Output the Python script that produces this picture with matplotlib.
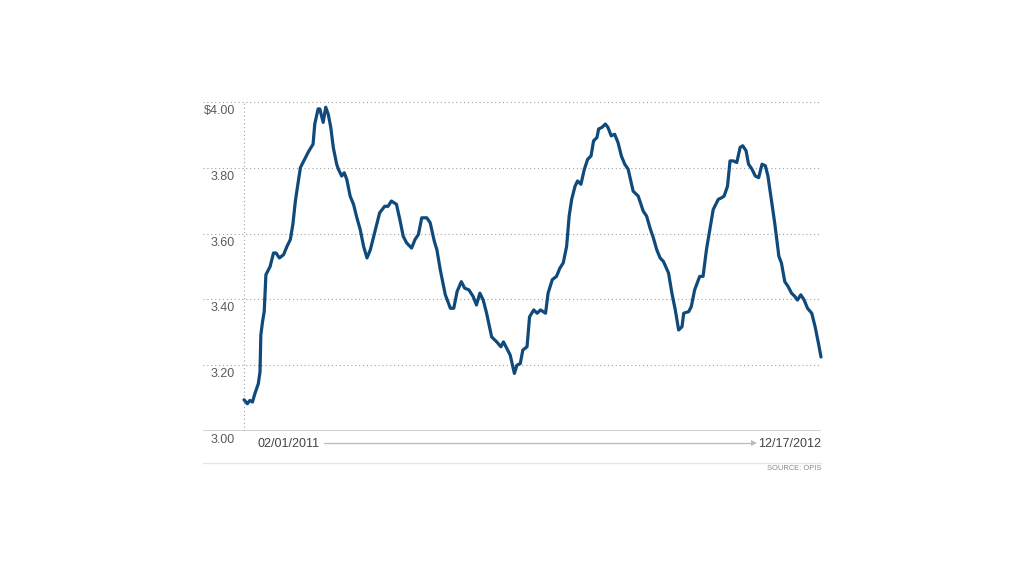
import matplotlib
matplotlib.use("Agg")
import matplotlib.pyplot as plt
from matplotlib.lines import Line2D
import matplotlib.transforms as mtransforms
import pandas as pd

# ---- data ----
start_date = "2011-02-01"
end_date = "2012-12-17"
day_offsets = [0, 4, 7, 10, 13, 17, 19, 20, 22, 24, 26, 31, 35, 38, 42, 47, 51, 55, 58, 61,
               63, 67, 72, 77, 82, 84, 88, 90, 94, 97, 100, 103, 106, 110, 112, 116, 119, 122,
               126, 130, 134, 138, 142, 146, 150, 154, 158, 161, 167, 171, 175, 181, 185, 189,
               193, 199, 203, 207, 211, 217, 221, 226, 229, 233, 239, 245, 249, 253, 258, 262,
               267, 272, 276, 280, 284, 288, 294, 300, 305, 308, 312, 316, 321, 324, 328, 331,
               336, 339, 344, 348, 352, 358, 361, 366, 371, 375, 379, 383, 386, 389, 393, 396,
               400, 404, 408, 412, 415, 419, 421, 425, 429, 432, 436, 440, 444, 448, 452, 456,
               462, 468, 474, 478, 482, 486, 490, 494, 498, 504, 508, 512, 516, 520, 522, 528,
               531, 535, 541, 545, 549, 553, 557, 563, 567, 570, 574, 577, 581, 585, 589, 592,
               596, 599, 603, 607, 611, 615, 619, 622, 626, 630, 635, 638, 642, 646, 650, 654,
               657, 661, 665, 669, 674, 678, 682, 685]
prices = [3.095, 3.083, 3.093, 3.088, 3.114, 3.144, 3.180, 3.292, 3.332, 3.363, 3.475, 3.500,
          3.541, 3.541, 3.526, 3.536, 3.561, 3.582, 3.628, 3.699, 3.734, 3.801, 3.826, 3.851,
          3.872, 3.933, 3.979, 3.979, 3.938, 3.984, 3.963, 3.923, 3.862, 3.811, 3.796, 3.775,
          3.785, 3.765, 3.714, 3.689, 3.648, 3.612, 3.561, 3.526, 3.551, 3.592, 3.633, 3.663,
          3.683, 3.683, 3.699, 3.689, 3.643, 3.592, 3.572, 3.556, 3.582, 3.597, 3.648, 3.648,
          3.633, 3.576, 3.551, 3.490, 3.414, 3.373, 3.373, 3.424, 3.454, 3.434, 3.429, 3.409,
          3.383, 3.419, 3.398, 3.358, 3.286, 3.271, 3.256, 3.271, 3.251, 3.231, 3.175, 3.200,
          3.205, 3.246, 3.256, 3.347, 3.368, 3.358, 3.368, 3.358, 3.419, 3.460, 3.470, 3.495,
          3.511, 3.561, 3.653, 3.704, 3.744, 3.760, 3.750, 3.795, 3.826, 3.836, 3.882, 3.892,
          3.918, 3.923, 3.933, 3.923, 3.897, 3.902, 3.877, 3.836, 3.811, 3.796, 3.729, 3.714,
          3.668, 3.653, 3.617, 3.587, 3.551, 3.526, 3.515, 3.480, 3.419, 3.368, 3.307, 3.317,
          3.358, 3.363, 3.378, 3.429, 3.470, 3.470, 3.551, 3.612, 3.673, 3.704, 3.709, 3.714,
          3.744, 3.821, 3.821, 3.816, 3.862, 3.867, 3.852, 3.811, 3.796, 3.775, 3.770, 3.811,
          3.806, 3.775, 3.704, 3.633, 3.531, 3.511, 3.454, 3.439, 3.419, 3.409, 3.398, 3.414,
          3.398, 3.373, 3.358, 3.317, 3.266, 3.225]
y_ticks = [3.00, 3.20, 3.40, 3.60, 3.80, 4.00]
y_tick_labels = ["3.00", "3.20", "3.40", "3.60", "3.80", "$4.00"]
start_label = "02/01/2011"
end_label = "12/17/2012"
source_text = "SOURCE: OPIS"

# ---- figure ----
plt.rcParams['font.family'] = ['Liberation Sans', 'DejaVu Sans']
W, H = 1024, 576
fig = plt.figure(figsize=(W / 100, H / 100), dpi=100)
fig.patch.set_facecolor("white")

def fx(px):
    return px / W

def fy(py):
    return 1 - py / H

left, right, top, bottom = 203, 821, 102, 431
ax = fig.add_axes([fx(left), fy(bottom), fx(right - left), (bottom - top) / H])
for s in ax.spines.values():
    s.set_visible(False)
ax.set_xticks([])
ax.set_yticks([])

t0 = pd.Timestamp(start_date)
t1 = pd.Timestamp(end_date)
dates = t0 + pd.to_timedelta(day_offsets, unit="D")
span = (t1 - t0)
pad = span * ((244 - left) / (right - 244))
ax.set_xlim(t0 - pad, t1)
ax.set_ylim(3.0, 4.0)

grid_col = "#a0a0a0"
for yv in y_ticks[1:]:
    ax.axhline(yv, color=grid_col, lw=0.8, ls=(0, (1, 2.5)), zorder=1)
ax.axhline(y_ticks[0], color="#c8c8c8", lw=1.2, zorder=1)
ax.axvline(t0, color=grid_col, lw=0.8, ls=(0, (1, 2.5)), zorder=1)

ax.plot(dates, prices, color="#0f4a7b", lw=2.3, solid_joinstyle="round",
        solid_capstyle="round", zorder=3, clip_on=False)

# y tick labels (drawn below each gridline, right aligned)
trans = mtransforms.blended_transform_factory(ax.transAxes, ax.transData)
off = mtransforms.offset_copy(trans, fig=fig, x=0, y=-3, units="dots")
for yv, lab in zip(y_ticks, y_tick_labels):
    ax.text((235 - left) / (right - left), yv, lab, transform=off, ha="right", va="top",
            fontsize=9, color="#5a5a5a")

# date labels with arrow
fig.text(fx(258), fy(444), start_label, ha="left", va="center", fontsize=9, color="#444444")
fig.text(fx(821), fy(444), end_label, ha="right", va="center", fontsize=9, color="#444444")
fig.add_artist(Line2D([fx(324), fx(752)], [fy(443), fy(443)], color="#bbbbbb", lw=0.9))
fig.add_artist(Line2D([fx(754)], [fy(443)], marker=">", markersize=4.5, color="#bbbbbb",
                      markeredgewidth=0, linestyle="none"))

# bottom rule and source
fig.add_artist(Line2D([fx(left), fx(right)], [fy(463), fy(463)], color="#e6e6e6", lw=1.0))
fig.text(fx(821), fy(469), source_text, ha="right", va="center", fontsize=5.4,
         color="#888888")

fig.savefig("out.png", dpi=100, facecolor="white")
